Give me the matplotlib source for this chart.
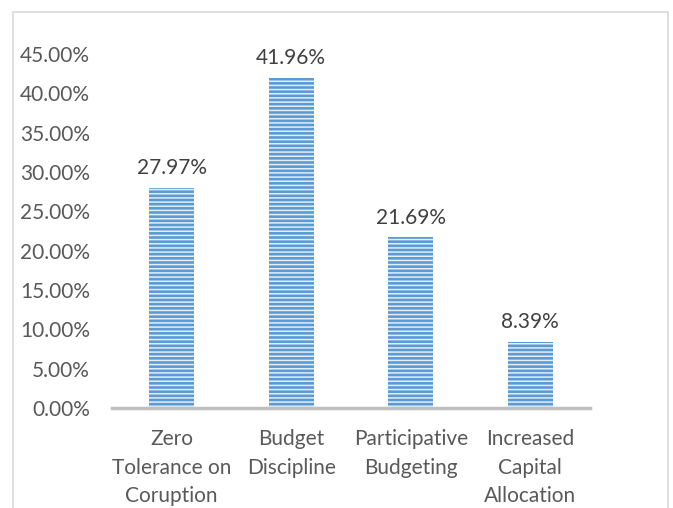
import matplotlib.pyplot as plt
from matplotlib.patches import Rectangle

categories = ['Zero\nTolerance on\nCoruption', 'Budget\nDiscipline',
              'Participative\nBudgeting', 'Increased\nCapital\nAllocation']
values = [27.97, 41.96, 21.69, 8.39]
y_ticks = [0, 5, 10, 15, 20, 25, 30, 35, 40, 45]

plt.rcParams['font.family'] = ['Lato', 'DejaVu Sans']
plt.rcParams['hatch.color'] = '#e3eef9'
plt.rcParams['hatch.linewidth'] = 1.1

fig = plt.figure(figsize=(6.73, 5.08), dpi=100)
# outer chart border
fig.patches.append(Rectangle((13 / 673, -0.1), 655 / 673, 1.1 - 12 / 508,
                             transform=fig.transFigure, fill=False,
                             edgecolor='#d9d9d9', linewidth=1.2))

ax = fig.add_axes([112 / 673, 1 - 408 / 508, 478 / 673, 354 / 508])
x = range(len(categories))
bars = ax.bar(x, values, width=0.38, color='#5b9bd5', hatch='----',
              edgecolor='#e3eef9', linewidth=0)

for b, v in zip(bars, values):
    ax.annotate('%.2f%%' % v, (b.get_x() + b.get_width() / 2, v),
                xytext=(0, 7), textcoords='offset points',
                ha='center', va='bottom', fontsize=15, color='#404040')

ax.set_xlim(-0.5, 3.5)
ax.set_ylim(0, 45)
ax.set_yticks(y_ticks)
ax.set_yticklabels(['%.2f%%' % t for t in y_ticks])
ax.set_xticks(list(x))
ax.set_xticklabels(categories, linespacing=1.55)
ax.tick_params(axis='both', length=0, labelsize=15, colors='#595959')
ax.tick_params(axis='y', pad=16)
ax.tick_params(axis='x', pad=15)
for s in ['top', 'right', 'left']:
    ax.spines[s].set_visible(False)
ax.spines['bottom'].set_color('#bfbfbf')
ax.spines['bottom'].set_linewidth(2.5)

fig.savefig('out.png', dpi=100)
